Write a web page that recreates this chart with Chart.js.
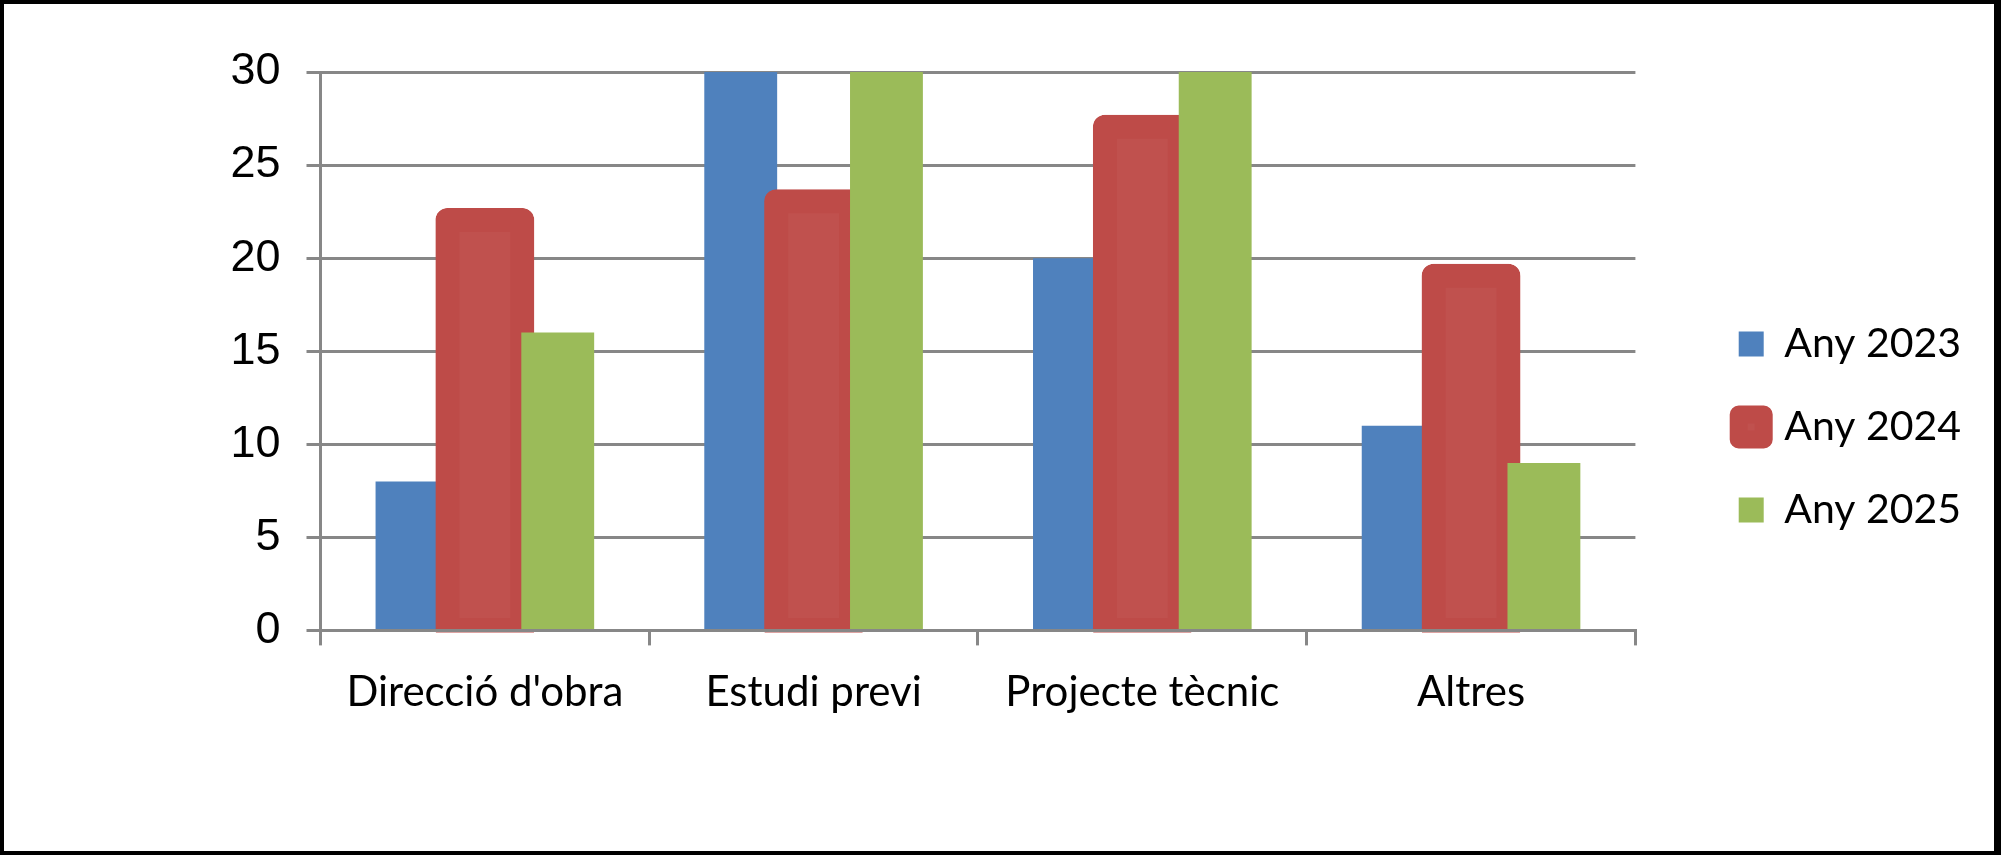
<!DOCTYPE html>
<html>
<head>
<meta charset="utf-8">
<title>Any 2023 – 2025</title>
<script src="https://cdn.jsdelivr.net/npm/chart.js@4.4.1/dist/chart.umd.min.js"></script>
<style>
  html, body { margin: 0; padding: 0; background: #fff; }
  .frame {
    position: absolute; left: 0; top: 0;
    width: 2001px; height: 855px; box-sizing: border-box;
    border: 4px solid #000; border-right-width: 7px; background: #fff;
  }
  .frame canvas { display: block; }
</style>
</head>
<body>
<div class="frame"><canvas id="chart" width="1990" height="847"></canvas></div>
<script>
/* Column chart, three years per category. Office-style palette. */
(function () {
  "use strict";

  var categories = ["Direcció d'obra", "Estudi previ", "Projecte tècnic", "Altres"];
  var seriesNames = ["Any 2023", "Any 2024", "Any 2025"];
  var any2023 = [8, 30, 20, 11];
  var any2024 = [22, 23, 27, 19];
  var any2025 = [16, 30, 30, 9];
  var yMin = 0, yMax = 30, yStep = 5;

  var BLUE = "#4F81BD";
  var RED = "#C0514E";
  var RED_EDGE = "#BE4B48";
  var GREEN = "#9BBB59";
  var GRID = "#878787";
  var FAMILY = "Lato, 'Open Sans', sans-serif";
  var TICK_FONT = { family: "'Liberation Sans', Arial, sans-serif", size: 45 };

  Chart.defaults.color = "#000";

  // Excel strokes the 2024 border centred on the bar edge; Chart.js strokes inside.
  // Grow those bars outward by half the border so the edge sits on the value.
  var centredStroke = {
    id: "centredStroke",
    afterDatasetsUpdate: function (chart) {
      var meta = chart.getDatasetMeta(1);
      var half = chart.data.datasets[1].borderWidth / 2;
      meta.data.forEach(function (bar) { bar.y -= half; bar.base += half; });
    }
  };

  // paint series left to right so each later series covers the one before
  var paintOrder = {
    id: "paintOrder",
    beforeDatasetsDraw: function (chart) {
      var ctx = chart.ctx;
      var area = chart.chartArea;
      chart.data.datasets.forEach(function (_, i) {
        var meta = chart.getDatasetMeta(i);
        if (meta.hidden) return;
        ctx.save();
        ctx.beginPath();
        ctx.rect(0, 0, chart.width, area.bottom + 2);
        ctx.clip();
        meta.controller.draw();
        ctx.restore();
      });
      return false;
    }
  };

  new Chart(document.getElementById("chart"), {
    type: "bar",
    data: {
      labels: categories,
      datasets: [
        { label: seriesNames[0], data: any2023, backgroundColor: BLUE, borderWidth: 0,
          barPercentage: 1, categoryPercentage: 0.665 },
        { label: seriesNames[1], data: any2024, backgroundColor: RED, borderColor: RED_EDGE,
          borderWidth: 24, borderRadius: 12, borderSkipped: false, inflateAmount: 1,
          barPercentage: 1.33, categoryPercentage: 0.665 },
        { label: seriesNames[2], data: any2025, backgroundColor: GREEN, borderWidth: 0,
          barPercentage: 1, categoryPercentage: 0.665 }
      ]
    },
    options: {
      responsive: false,
      animation: false,
      layout: { padding: { top: 68, bottom: 69, left: 0, right: 23 } },
      plugins: {
        tooltip: { enabled: false },
        legend: {
          position: "right",
          maxWidth: 275,
          labels: {
            font: { family: FAMILY, size: 41 },
            color: "#000",
            boxWidth: 25,
            boxHeight: 25,
            padding: 42,
            generateLabels: function (chart) {
              var items = Chart.defaults.plugins.legend.labels.generateLabels(chart);
              items.forEach(function (it) {
                if (it.datasetIndex === 1) {
                  it.lineWidth = 18;
                  it.lineJoin = "round";
                  it.strokeStyle = RED_EDGE;
                } else {
                  it.lineWidth = 0;
                }
              });
              return items;
            }
          }
        }
      },
      scales: {
        x: {
          offset: true,
          grid: { display: true, drawOnChartArea: false, drawTicks: true, tickLength: 15,
                  offset: true, color: GRID, lineWidth: 3 },
          border: { display: true, color: GRID, width: 3, z: 1 },
          ticks: { font: { family: FAMILY, size: 42 }, color: "#000", padding: 22, maxRotation: 0 },
          afterFit: function (s) { s.height = 151.6; }
        },
        y: {
          min: yMin, max: yMax,
          grid: { color: GRID, lineWidth: 3, tickLength: 14 },
          border: { display: true, color: GRID, width: 3 },
          ticks: { stepSize: yStep, font: TICK_FONT, color: "#000", padding: 26 },
          afterFit: function (s) { s.width = 316.5; }
        },
        gap: {
          type: "linear", position: "right", display: true,
          grid: { display: false }, border: { display: false }, ticks: { display: false },
          afterFit: function (s) { s.width = 61.3; }
        }
      }
    },
    plugins: [centredStroke, paintOrder]
  });
})();
</script>
</body>
</html>
